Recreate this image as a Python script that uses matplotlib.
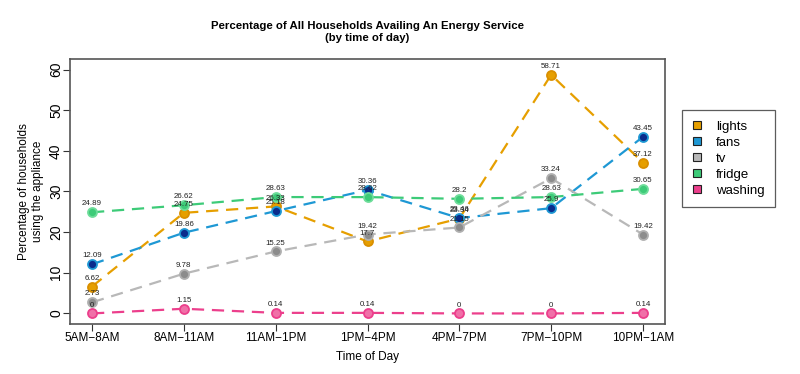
import matplotlib
matplotlib.use('Agg')
import matplotlib.pyplot as plt
from matplotlib.patches import Patch
import numpy as np

plt.rcParams['font.family'] = ['Liberation Sans', 'DejaVu Sans']

# time slots on the x axis
slots = ['5AM\u22128AM', '8AM\u221211AM', '11AM\u22121PM', '1PM\u22124PM',
         '4PM\u22127PM', '7PM\u221210PM', '10PM\u22121AM']

# percentage of households per appliance
lights = [6.62, 24.75, 26.33, 17.7, 23.34, 58.71, 37.12]
fans = [12.09, 19.86, 25.18, 30.36, 23.46, 25.9, 43.45]
tv = [2.73, 9.78, 15.25, 19.42, 21.15, 33.24, 19.42]
fridge = [24.89, 26.62, 28.63, 28.62, 28.2, 28.63, 30.65]
washing = [0, 1.15, 0.14, 0.14, 0, 0, 0.14]

series = [
    ('lights', lights, '#E69F00', '#E69F00', '#D98F00'),
    ('fans', fans, '#1E98D4', '#0A2C8C', '#1E98D4'),
    ('tv', tv, '#B8B8B8', '#8C8C8C', '#B0B0B0'),
    ('fridge', fridge, '#3DCB78', '#3DCB78', '#6EDD9A'),
    ('washing', washing, '#EC3F8C', '#F070A8', '#EC3F8C'),
]

fig = plt.figure(figsize=(8.0, 3.74), dpi=100)
ax = fig.add_axes([70 / 800, 1 - 324 / 374, 595 / 800, 265 / 374])

x = np.arange(len(slots))
for name, vals, col, face, edge in series:
    ax.plot(x, vals, color=col, linestyle=(0, (5.5, 3.5)), linewidth=1.6, zorder=2)
    ax.plot(x, vals, linestyle='none', marker='o', markersize=6.5,
            markerfacecolor=face, markeredgecolor=edge, markeredgewidth=1.3, zorder=3)
    for xi, v in zip(x, vals):
        ax.annotate(f'{v:g}', (xi, v), xytext=(0, 3.5), textcoords='offset points',
                    ha='center', va='bottom', fontsize=5.7, color='#222222', zorder=4)

ax.set_xlim(-0.24, 6.24)
ax.set_ylim(-2.6, 62.6)
ax.set_xticks(x)
ax.set_xticklabels(slots, fontsize=8.5)
ax.set_yticks([0, 10, 20, 30, 40, 50, 60])
ax.set_yticklabels(['0', '10', '20', '30', '40', '50', '60'], fontsize=10, rotation=90, va='center')
ax.tick_params(direction='out', length=5, width=0.8, color='#333333')
ax.tick_params(axis='x', pad=1)
ax.tick_params(axis='y', pad=0)
for s in ax.spines.values():
    s.set_color('#555555')
    s.set_linewidth(1.2)

ax.set_xlabel('Time of Day', fontsize=8.5, labelpad=5)
ax.set_ylabel('Percentage of households\nusing the appliance', fontsize=8.5, labelpad=4)
ax.set_title('Percentage of All Households Availing An Energy Service\n(by time of day)',
             fontsize=8.2, fontweight='bold', pad=13, linespacing=1.3)

handles = [Patch(facecolor=col, edgecolor='#222222', linewidth=0.8, label=name)
           for name, vals, col, face, edge in series]
leg = fig.legend(handles=handles, loc='upper left', bbox_to_anchor=(682 / 800, 1 - 110 / 374),
                 fontsize=9.5, frameon=True, fancybox=False, edgecolor='#333333',
                 handlelength=0.65, handleheight=0.65, handletextpad=1.1, borderpad=0.8,
                 labelspacing=0.3, borderaxespad=0)
leg.get_frame().set_linewidth(0.9)

fig.savefig('out.png', dpi=100)
